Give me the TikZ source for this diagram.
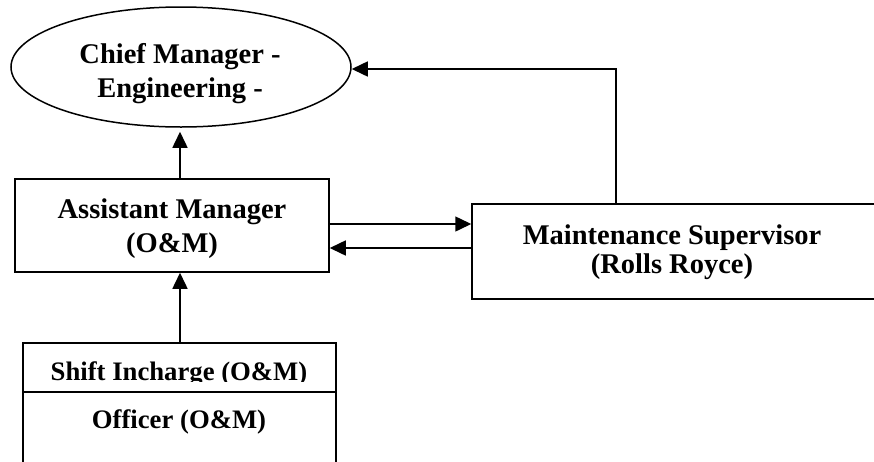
\documentclass[tikz,border=0pt]{standalone}
\usepackage{fontspec}
\setmainfont{Liberation Serif}
\usetikzlibrary{arrows.meta,shapes.geometric}
\begin{document}
\begin{tikzpicture}[x=1pt,y=-1pt,
  shapeline/.style={draw=black,line width=1.5pt},
  boxnode/.style={shapeline,rectangle,inner sep=0pt},
  txt/.style={font=\fontsize{28.5}{34}\selectfont\bfseries,align=center,inner sep=0pt},
  smalltxt/.style={txt,font=\fontsize{26.7}{32}\selectfont\bfseries},
  arr/.style={line width=1.5pt,-{Triangle[length=16pt,width=15pt]}}]
\useasboundingbox (0,0) rectangle (874,461);
\clip (0,0) rectangle (874,461);
% shapes
\node[shapeline,ellipse,minimum width=340pt,minimum height=120pt,inner sep=0pt] (chief) at (181,67) {};
\node[txt] (chieftxt) at (180,73.5) {Chief Manager -\\Engineering -};
\node[boxnode,minimum width=314pt,minimum height=93pt] (am) at (172,225.5) {};
\node[txt] (amtxt) at (172,229) {Assistant Manager\\(O\&M)};
\node[boxnode,minimum width=404pt,minimum height=95pt] (ms) at (674,251.5) {};
\node[txt,font=\fontsize{28.5}{29}\selectfont\bfseries] (mstxt) at (672,252.3) {Maintenance Supervisor\\(Rolls Royce)};
\node[boxnode,minimum width=313pt,minimum height=49pt] (shift) at (179.5,367.5) {};
\node[boxnode,minimum width=313pt,minimum height=80pt] (off) at (179.5,432) {};
\begin{scope}
  \clip (23,343) rectangle (336,381);
  \node[smalltxt,anchor=base] (shifttxt) at (179,380.5) {Shift Incharge (O\&M)};
\end{scope}
\node[smalltxt,anchor=base] (offtxt) at (179,428) {Officer (O\&M)};
% connectors
\coordinate (ax) at (180,0);
\coordinate (ya) at (0,224);
\coordinate (yb) at (0,248);
\coordinate (corner) at (616,69);
\draw[arr,shorten >=4pt] (am.north -| ax) -- (chief.south -| ax);
\draw[arr] (shift.north -| ax) -- (am.south -| ax);
\draw[arr] (am.east |- ya) -- (ms.west |- ya);
\draw[arr] (ms.west |- yb) -- (am.east |- yb);
\draw[arr] (ms.north -| corner) -- (corner) -- (chief.east |- corner);
\end{tikzpicture}
\end{document}
